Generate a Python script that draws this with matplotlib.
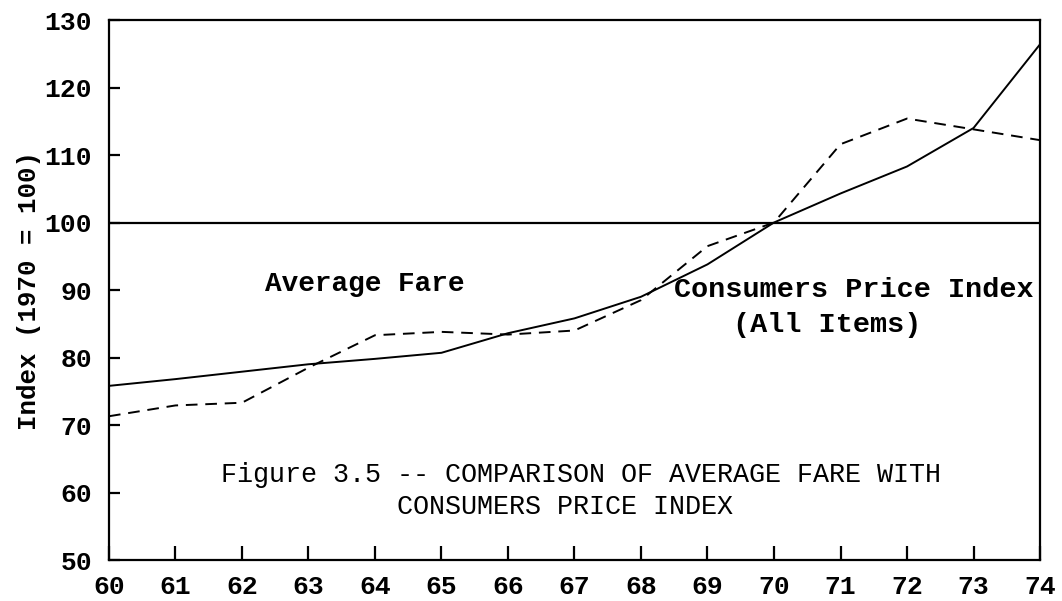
"""Average fare compared with the consumers price index, 1960-1974."""
import matplotlib.pyplot as plt

# index values (1970 = 100)
years = [60, 61, 62, 63, 64, 65, 66, 67, 68, 69, 70, 71, 72, 73, 74]
cpi = [75.8, 76.8, 77.9, 79.0, 79.8, 80.7, 83.6, 85.8, 89.0, 93.8, 100.0, 104.3, 108.3, 114.0, 126.4]
avg_fare = [71.3, 72.9, 73.3, 78.5, 83.3, 83.8, 83.4, 84.0, 88.5, 96.5, 100.0, 111.6, 115.4, 113.8, 112.2]

x_ticks = list(range(60, 75))
y_ticks = list(range(50, 131, 10))
base_index = 100

plt.rcParams["font.family"] = ["Liberation Mono", "DejaVu Sans Mono"]

fig = plt.figure(figsize=(10.62, 6.01), dpi=100)
ax = fig.add_axes([0.1026, 0.0682, 0.8767, 0.8985])

# series
ax.plot(years, cpi, color="black", lw=1.4, solid_joinstyle="miter")
ax.plot(years, avg_fare, color="black", lw=1.4, dashes=(6, 4))
ax.axhline(base_index, color="black", lw=1.6)

ax.set_xlim(years[0], years[-1])
ax.set_ylim(y_ticks[0], y_ticks[-1])
ax.set_xticks(x_ticks)
ax.set_yticks(y_ticks)

for side in ["left", "right", "top", "bottom"]:
    ax.spines[side].set_linewidth(1.6)
ax.tick_params(axis="both", direction="in", width=1.6, labelsize=19)
ax.tick_params(axis="y", length=8, pad=12)
ax.tick_params(axis="x", length=10, pad=11)
for lbl in ax.get_xticklabels() + ax.get_yticklabels():
    lbl.set_fontweight("bold")

ax.set_ylabel("Index (1970 = 100)", fontsize=18.5, fontweight="bold", labelpad=3)

# annotations
ax.text(63.85, 90.9, "Average Fare", fontsize=20, fontweight="bold",
        ha="center", va="center")
ax.text(71.2, 90.0, "Consumers Price Index", fontsize=20.5, fontweight="bold",
        ha="center", va="center")
ax.text(70.8, 84.8, "(All Items)", fontsize=20.5, fontweight="bold",
        ha="center", va="center")
ax.text(67.1, 62.6, "Figure 3.5 -- COMPARISON OF AVERAGE FARE WITH", fontsize=19.3,
        ha="center", va="center")
ax.text(66.86, 57.85, "CONSUMERS PRICE INDEX", fontsize=19.3,
        ha="center", va="center")

plt.savefig("out.png", dpi=100)
plt.close()
